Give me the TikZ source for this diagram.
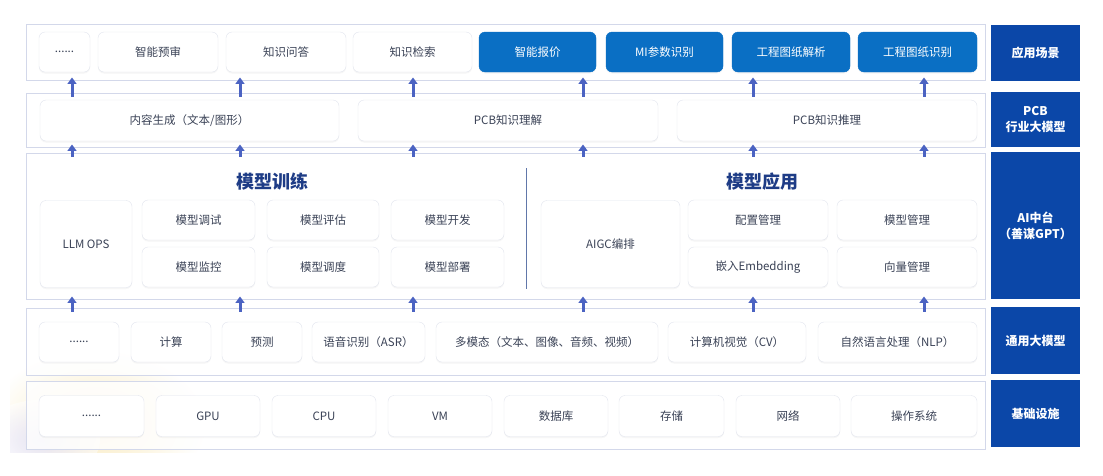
\documentclass[tikz,border=0pt]{standalone}
\usepackage{fontspec}
\newfontfamily\cjk{Noto Sans CJK SC}
\usetikzlibrary{arrows.meta,shadows}
\definecolor{labelblue}{HTML}{0B47A8}
\definecolor{tileblue}{HTML}{0A6FC4}
\definecolor{panelline}{HTML}{D3D8EA}
\definecolor{tileline}{HTML}{E2E5EE}
\definecolor{tiletext}{HTML}{3A4256}
\definecolor{titleblue}{HTML}{1E3C86}
\definecolor{arrowblue}{HTML}{4B63C2}
\definecolor{glow}{HTML}{F3D98C}

\begin{document}
\begin{tikzpicture}[
    x=1pt,y=-1pt,
    panel/.style={rectangle,draw=panelline,line width=0.9pt,fill=white,fill opacity=0.82,
                  minimum width=959pt,inner sep=0pt},
    side/.style={rectangle,fill=labelblue,text=white,minimum width=89pt,inner sep=0pt,
                 align=center,font=\cjk\fontsize{12}{16}\selectfont\bfseries},
    tile/.style={rectangle,rounded corners=6pt,draw=tileline,fill=white,inner sep=0pt,
                 align=center,text=tiletext,font=\cjk\fontsize{11.5}{14}\selectfont,
                 drop shadow={opacity=0.07,shadow xshift=0pt,shadow yshift=-1.5pt}},
    hot/.style={tile,draw=tileblue,fill=tileblue,text=white},
    grouptitle/.style={font=\cjk\fontsize{18}{20}\selectfont\bfseries,text=titleblue},
    uparrow/.style={-{Triangle[length=6.5pt,width=9pt]},line width=3pt,draw=arrowblue,
                    shorten <=-4pt,shorten >=-3pt}
]
\useasboundingbox (0,0) rectangle (1103,475);

% faint board glow behind the lower left corner
\begin{scope}
\clip (10,300) rectangle (230,452);
\shade[inner color=glow,outer color=white,opacity=0.55] (95,425) ellipse (110pt and 75pt);
\shade[inner color=blue!18,outer color=white,opacity=0.5] (40,440) ellipse (60pt and 40pt);
\end{scope}

% layer panels
\node[panel,minimum height=56pt] (scene) at (505.5,52) {};
\node[panel,minimum height=54pt] (pcb) at (505.5,120) {};
\node[panel,minimum height=146pt] (mid) at (505.5,226) {};
\node[panel,minimum height=67pt] (general) at (505.5,341.5) {};
\node[panel,minimum height=68pt] (infra) at (505.5,415) {};

% side labels
\node[side,minimum height=56pt] (lscene) at (1035.5,53) {应用场景};
\node[side,minimum height=55pt] (lpcb) at (1035.5,119.5) {PCB\\行业大模型};
\node[side,minimum height=147pt] (lmid) at (1035.5,225.5) {AI中台\\（善谋GPT）};
\node[side,minimum height=67pt] (lgeneral) at (1035.5,340.5) {通用大模型};
\node[side,minimum height=67pt] (linfra) at (1035.5,413.5) {基础设施};

% application scenarios
\node[tile,minimum width=51pt,minimum height=40pt] (more1) at (64.5,52) {......};
\node[tile,minimum width=120pt,minimum height=40pt] (review) at (158,52) {智能预审};
\node[tile,minimum width=120pt,minimum height=40pt] (qa) at (286,52) {知识问答};
\node[tile,minimum width=119pt,minimum height=40pt] (search) at (412.5,52) {知识检索};
\node[hot,minimum width=117pt,minimum height=40pt] (quote) at (537.5,52) {智能报价};
\node[hot,minimum width=117pt,minimum height=40pt] (miparam) at (664.5,52) {MI参数识别};
\node[hot,minimum width=118pt,minimum height=40pt] (parse) at (791,52) {工程图纸解析};
\node[hot,minimum width=119pt,minimum height=40pt] (recog) at (917.5,52) {工程图纸识别};

% PCB industry model
\node[tile,minimum width=299pt,minimum height=41pt] (gen) at (189.5,120.5) {内容生成（文本/图形）};
\node[tile,minimum width=300pt,minimum height=41pt] (understand) at (508,120.5) {PCB知识理解};
\node[tile,minimum width=300pt,minimum height=41pt] (reason) at (827,120.5) {PCB知识推理};

% AI middle platform
\node[grouptitle] (train) at (272,182) {模型训练};
\node[grouptitle] (apply) at (762,182) {模型应用};
\draw[titleblue!70,line width=0.8pt] (526,168) -- (526,289);

\node[tile,minimum width=92pt,minimum height=87pt] (llmops) at (86,244) {LLM OPS};
\node[tile,minimum width=113pt,minimum height=40pt] (debug) at (198.5,220) {模型调试};
\node[tile,minimum width=112pt,minimum height=40pt] (evaluate) at (323,220) {模型评估};
\node[tile,minimum width=113pt,minimum height=40pt] (develop) at (447.5,220) {模型开发};
\node[tile,minimum width=113pt,minimum height=40pt] (monitor) at (198.5,267) {模型监控};
\node[tile,minimum width=112pt,minimum height=40pt] (schedule) at (323,267) {模型调度};
\node[tile,minimum width=113pt,minimum height=40pt] (deploy) at (447.5,267) {模型部署};

\node[tile,minimum width=139pt,minimum height=87pt] (aigc) at (610.5,244) {AIGC编排};
\node[tile,minimum width=140pt,minimum height=40pt] (config) at (758,220) {配置管理};
\node[tile,minimum width=140pt,minimum height=40pt] (modelmgr) at (907,220) {模型管理};
\node[tile,minimum width=140pt,minimum height=40pt] (embed) at (758,267) {嵌入Embedding};
\node[tile,minimum width=140pt,minimum height=40pt] (vector) at (907,267) {向量管理};

% general models
\node[tile,minimum width=80pt,minimum height=40pt] (more2) at (79,342) {......};
\node[tile,minimum width=80pt,minimum height=40pt] (compute) at (171,342) {计算};
\node[tile,minimum width=80pt,minimum height=40pt] (predict) at (262,342) {预测};
\node[tile,minimum width=113pt,minimum height=40pt] (asr) at (368.5,342) {语音识别（ASR）};
\node[tile,minimum width=222pt,minimum height=40pt] (multi) at (547,342) {多模态（文本、图像、音频、视频）};
\node[tile,minimum width=138pt,minimum height=40pt] (cv) at (737,342) {计算机视觉（CV）};
\node[tile,minimum width=159pt,minimum height=40pt] (nlp) at (897.5,342) {自然语言处理（NLP）};

% infrastructure
\node[tile,minimum width=105pt,minimum height=41pt] (more3) at (91.5,416) {......};
\node[tile,minimum width=104pt,minimum height=41pt] (gpu) at (208,416) {GPU};
\node[tile,minimum width=104pt,minimum height=41pt] (cpu) at (324,416) {CPU};
\node[tile,minimum width=104pt,minimum height=41pt] (vm) at (440,416) {VM};
\node[tile,minimum width=104pt,minimum height=41pt] (db) at (556,416) {数据库};
\node[tile,minimum width=105pt,minimum height=41pt] (storage) at (671.5,416) {存储};
\node[tile,minimum width=104pt,minimum height=41pt] (network) at (788,416) {网络};
\node[tile,minimum width=126pt,minimum height=41pt] (os) at (914,416) {操作系统};

% arrows between layers
\foreach \x in {72,240,413,583,753,924} {
    \draw[uparrow] (pcb.north -| \x,0) -- (scene.south -| \x,0);
    \draw[uparrow] (mid.north -| \x,0) -- (pcb.south -| \x,0);
    \draw[uparrow] (general.north -| \x,0) -- (mid.south -| \x,0);
}
\end{tikzpicture}
\end{document}
